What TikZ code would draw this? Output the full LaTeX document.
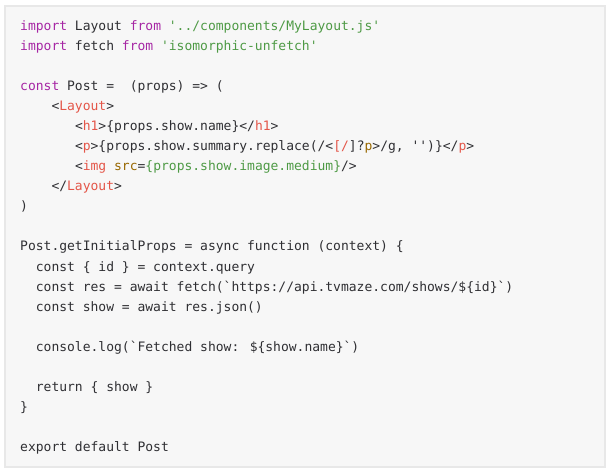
\documentclass[tikz,border=0pt]{standalone}
\usepackage{tikz}
\usepackage{fontspec}
\newfontfamily\codefont{DejaVu Sans Mono}[Ligatures=TeXOff]
\definecolor{kwcol}{HTML}{A626A4}
\definecolor{strcol}{HTML}{4E9A45}
\definecolor{tagcol}{HTML}{E45649}
\definecolor{attcol}{HTML}{986801}
\definecolor{txtcol}{HTML}{2F2F33}
\definecolor{boxfill}{HTML}{F7F7F7}
\definecolor{boxline}{HTML}{E8E8E8}
\newcommand{\kwd}[1]{\textcolor{kwcol}{#1}}
\newcommand{\strg}[1]{\textcolor{strcol}{#1}}
\newcommand{\tagn}[1]{\textcolor{tagcol}{#1}}
\newcommand{\attn}[1]{\textcolor{attcol}{#1}}
\newcommand{\cw}{7.83}

\begin{document}
\begin{tikzpicture}[x=1pt,y=1pt,
  code/.style={anchor=base west, inner sep=0pt, text=txtcol,
    font=\codefont\fontsize{13}{16}\selectfont}]
\useasboundingbox (0,0) rectangle (613,-473);
\fill[white] (0,0) rectangle (613,-473);
\draw[boxline, fill=boxfill, line width=1.2pt] (5,-6) rectangle (605,-467);
% imports
\node[code] (imp-layout) at (20,-31) {\kwd{import} Layout \kwd{from} \strg{'../components/MyLayout.js'}};
\node[code] (imp-fetch) at (20,-51) {\kwd{import} fetch \kwd{from} \strg{'isomorphic-unfetch'}};
% component
\node[code] (post-def) at (20,-91) {\kwd{const} Post =\ \ (props) => (};
\node[code] (layout-open) at (20+4*\cw,-111) {<\tagn{Layout}>};
\node[code] (h1-line) at (20+7*\cw,-131) {<\tagn{h1}>\{props.show.name\}</\tagn{h1}>};
\node[code] (p-line) at (20+7*\cw,-151) {<\tagn{p}>\{props.show.summary.replace(/<\tagn{[/}]?\attn{p}>/g, '')\}</\tagn{p}>};
\node[code] (img-line) at (20+7*\cw,-171) {<\tagn{img} \attn{src}=\strg{\{props.show.image.medium\}}/>};
\node[code] (layout-close) at (20+4*\cw,-191) {</\tagn{Layout}>};
\node[code] (paren-close) at (20,-211) {)};
% getInitialProps
\node[code] (init-props) at (20,-251) {Post.getInitialProps = async function (context) \{};
\node[code] (id-line) at (20+2*\cw,-271) {const \{ id \} = context.query};
\node[code] (res-line) at (20+2*\cw,-291) {const res = await fetch(`https://api.tvmaze.com/shows/\$\{id\}`)};
\node[code] (show-line) at (20+2*\cw,-311) {const show = await res.json()};
\node[code] (log-line) at (20+2*\cw,-351) {console.log(`Fetched show: \$\{show.name\}`)};
\node[code] (return-line) at (20+2*\cw,-391) {return \{ show \}};
\node[code] (brace-close) at (20,-411) {\}};
\node[code] (export-line) at (20,-451) {export default Post};
\end{tikzpicture}
\end{document}
